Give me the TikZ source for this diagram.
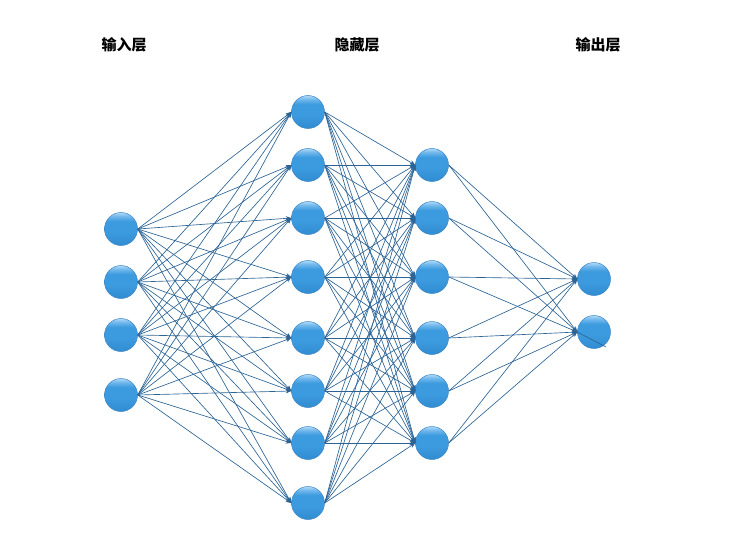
\documentclass[tikz,border=0pt]{standalone}
\usepackage{fontspec}
\newfontfamily\cjk{Noto Sans CJK SC}
\usetikzlibrary{arrows.meta}
\definecolor{edgec}{RGB}{44,100,150}
\definecolor{ballTop}{RGB}{175,218,246}
\definecolor{ballHi}{RGB}{110,182,236}
\definecolor{ballMid}{RGB}{60,154,222}
\definecolor{ballBot}{RGB}{48,140,210}
\definecolor{ballLine}{RGB}{62,135,198}
\pgfdeclareverticalshading{ballshade}{100bp}{%
  color(0bp)=(ballBot); color(25bp)=(ballBot); color(45bp)=(ballMid);
  color(62bp)=(ballMid); color(69bp)=(ballHi); color(75bp)=(ballTop); color(100bp)=(ballTop)}
\tikzset{
  neuron/.style={circle, minimum size=33pt, inner sep=0pt, draw=ballLine, line width=0.5pt,
    shading=ballshade},
  conn/.style={draw=edgec, line width=0.65pt, -{Stealth[length=5.5pt,width=4.5pt]}},
  stray/.style={draw=edgec, line width=0.65pt},
  layerlabel/.style={font=\cjk\bfseries\fontsize{15pt}{18pt}\selectfont, text=black}
}
\begin{document}
\begin{tikzpicture}[x=1pt,y=-1pt]
\useasboundingbox (0,0) rectangle (734,551);
\fill[white] (0,0) rectangle (734,551);
% labels
\node[layerlabel] (lin) at (124,45) {输入层};
\node[layerlabel] (lhid) at (357,45) {隐藏层};
\node[layerlabel] (lout) at (598,45) {输出层};
% input layer
\foreach \y [count=\i] in {229,282,335,395} \node[neuron] (a\i) at (121,\y) {};
% hidden 1
\foreach \y [count=\i] in {112,165,218,277,338,391,443,503} \node[neuron] (b\i) at (308,\y) {};
% hidden 2
\foreach \y [count=\i] in {165,218,277,338,391,443} \node[neuron] (c\i) at (432,\y) {};
% output
\foreach \y [count=\i] in {279,332} \node[neuron] (d\i) at (594,\y) {};
% connectors
\foreach \i in {1,...,4} \foreach \j in {1,...,8} \draw[conn] (a\i.east) -- (b\j.west);
\foreach \i in {1,...,8} \foreach \j in {1,...,6} \draw[conn] (b\i.east) -- (c\j.west);
\foreach \i in {1,...,6} \foreach \j in {1,2} \draw[conn] (c\i.east) -- (d\j.west);
\coordinate (strayend) at (606,347);
\draw[stray] (d2.west) -- (strayend);
\end{tikzpicture}
\end{document}
